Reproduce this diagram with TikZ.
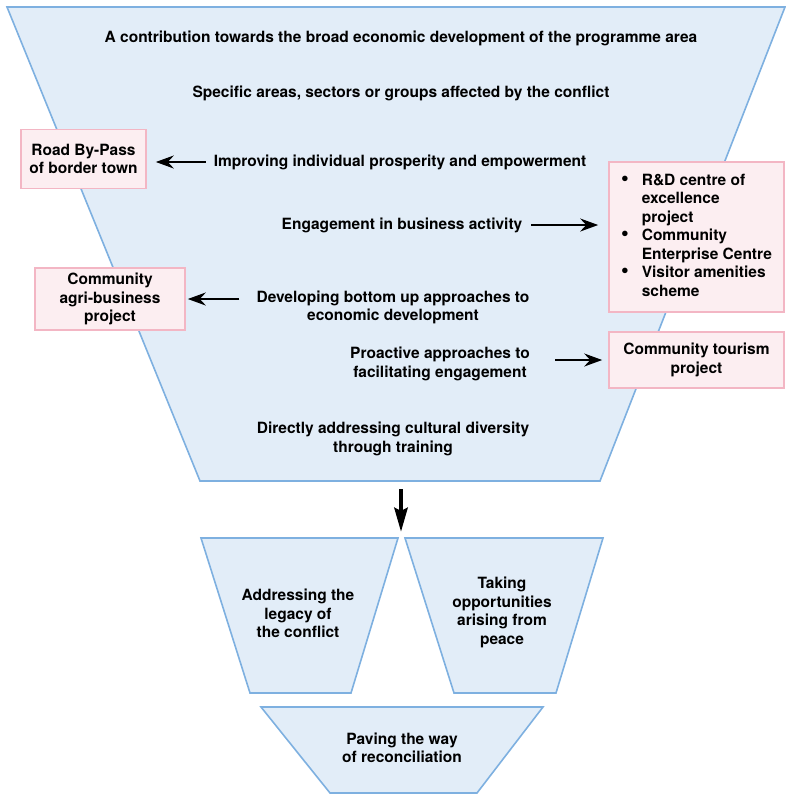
\documentclass[tikz,border=0pt]{standalone}
\usepackage{fontspec}
\setmainfont{TeX Gyre Heros}
\usepackage{tikz}
\usetikzlibrary{arrows.meta,positioning}
\definecolor{funnelblue}{RGB}{226,237,248}
\definecolor{funneledge}{RGB}{126,176,224}
\definecolor{projpink}{RGB}{252,238,241}
\definecolor{projedge}{RGB}{243,182,196}
\newcommand{\lblfont}{\bfseries\fontsize{15.5}{18.5}\selectfont}
\newcommand{\projbullet}{{\fontsize{22}{18.5}\selectfont\textbullet}}
\tikzset{
  funnel/.style ={draw=funneledge, fill=funnelblue, line width=1.6pt},
  lbl/.style    ={align=center, font=\lblfont, inner sep=0pt},
  proj/.style   ={rectangle, draw=projedge, fill=projpink, line width=1.6pt,
                  align=center, font=\lblfont, inner sep=0pt},
  flow/.style   ={-{Stealth[length=18pt,width=13pt,inset=6pt]}, line width=2pt},
  bigflow/.style={-{Stealth[length=24pt,width=13pt,inset=3pt]}, line width=4.5pt},
}

\begin{document}
\begin{tikzpicture}[x=1pt, y=-1pt]
  \useasboundingbox (0,0) rectangle (786,795);
  % funnels
  \draw[funnel] (7,7) -- (785,7) -- (600,481) -- (200,481) -- cycle;
  \draw[funnel] (201,538) -- (398,538) -- (351,693) -- (250,693) -- cycle;
  \draw[funnel] (405,538) -- (603,538) -- (556,693) -- (454,693) -- cycle;
  \draw[funnel] (261,707) -- (543,707) -- (477,793) -- (330,793) -- cycle;

  % levels of the main funnel
  \node[lbl] (contrib)  at (401,38.5)  {A contribution towards the broad economic development of the programme area};
  \node[lbl] (areas)    at (401,93.5)  {Specific areas, sectors or groups affected by the conflict};
  \node[lbl] (prosp)    at (400,162) {Improving individual prosperity and empowerment};
  \node[lbl] (engage)   at (402,225) {Engagement in business activity};
  \node[lbl] (bottomup) at (393,307.5) {Developing bottom up approaches to\\economic development};
  \node[lbl] (proact)   at (440,364) {Proactive approaches to\\facilitating engagement};
  \node[lbl] (divers)   at (393,439) {Directly addressing cultural diversity\\through training};

  % projects
  \node[proj, minimum width=125pt, minimum height=59pt] (bypass)  at (83.5,159) {Road By-Pass\\of border town};
  \node[proj, minimum width=150pt, minimum height=62pt] (agri)    at (110,299)    {Community\\agri-business\\project};
  \node[proj, minimum width=175pt, minimum height=150pt] (rd)     at (696.5,237)  {%
    \begin{tabular}{@{}l@{\hspace{13pt}}l@{}}
      \projbullet & R\&D centre of\\
                  & excellence\\
                  & project\\
      \projbullet & Community\\
                  & Enterprise Centre\\
      \projbullet & Visitor amenities\\
                  & scheme
    \end{tabular}};
  \node[proj, minimum width=175pt, minimum height=56pt] (tourism) at (696.5,360)  {Community tourism\\project};

  \draw[flow, shorten <=8pt, shorten >=9pt]  (prosp.west) -- (prosp.west -| bypass.east);
  \draw[flow, shorten <=9pt, shorten >=10pt] (engage.east) -- (engage.east -| rd.west);
  \draw[flow, shorten <=17pt, shorten >=2pt] (bottomup.west |- agri.east) -- (agri.east);
  \draw[flow, shorten <=25pt, shorten >=6pt] (proact.east |- tourism.west) -- (tourism.west);

  % lower funnels
  \coordinate (mainfoot) at (401,489);
  \coordinate (splitgap) at (401,532);
  \draw[bigflow] (mainfoot) -- (splitgap);
  \node[lbl] (legacy) at (298,613.5) {Addressing the\\legacy of\\the conflict};
  \node[lbl] (peace)  at (502,612.5) {Taking\\opportunities\\arising from\\peace};
  \node[lbl] (paving) at (402,748)   {Paving the way\\of reconciliation};
\end{tikzpicture}
\end{document}
